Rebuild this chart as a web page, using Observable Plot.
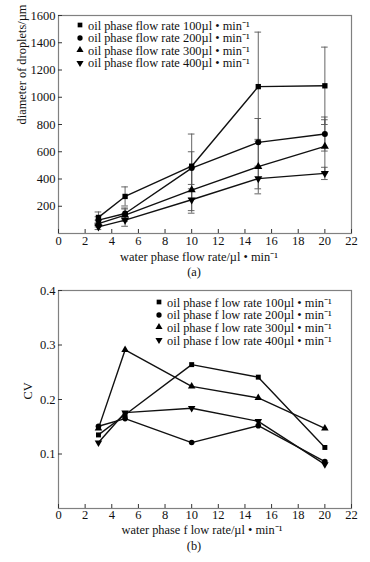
<!DOCTYPE html>
<html>
<head>
<meta charset="utf-8">
<script src="https://cdn.jsdelivr.net/npm/d3@7"></script>
<script src="https://cdn.jsdelivr.net/npm/@observablehq/plot@0.6"></script>
<style>
  html, body { margin: 0; padding: 0; background: #fff; }
  #wrap { position: relative; width: 370px; height: 562px; background: #fff; overflow: hidden; }
  .pane { position: absolute; left: 0; }
  .legend { position: absolute; font-family: "Liberation Serif", serif; font-size: 12.4px; color: #111; }
  .row { position: absolute; white-space: nowrap; display: flex; align-items: center; height: 12px; }
  .row svg { display: block; margin-right: 3px; }
</style>
</head>
<body>
<div id="wrap">
  <div id="a" class="pane" style="top:0"></div>
  <div id="b" class="pane" style="top:280px"></div>
  <div id="legA" class="legend" style="left:75px;top:19px"></div>
  <div id="legB" class="legend" style="left:154px;top:296px"></div>
</div>
<script>
// ---------- data ----------
const waterFlow = [3, 5, 10, 15, 20];
const seriesNamesA = [
  "oil phase flow rate 100µl • min⁻¹",
  "oil phase flow rate 200µl • min⁻¹",
  "oil phase flow rate 300µl • min⁻¹",
  "oil phase flow rate 400µl • min⁻¹"
];
const seriesNamesB = [
  "oil phase f low rate 100µl • min⁻¹",
  "oil phase f low rate 200µl • min⁻¹",
  "oil phase f low rate 300µl • min⁻¹",
  "oil phase f low rate 400µl • min⁻¹"
];
// diameter of droplets (µm)
const diam100 = [118, 272, 494, 1078, 1084];
const diam200 = [98, 147, 480, 669, 730];
const diam300 = [73, 135, 319, 491, 640];
const diam400 = [49, 98, 248, 403, 441];
// error (± µm)
const err100 = [40, 70, 236, 400, 284];
const err200 = [25, 40, 120, 175, 125];
const err300 = [25, 45, 170, 200, 195];
const err400 = [20, 45, 80, 75, 45];
// CV
const cv100 = [0.135, 0.172, 0.264, 0.241, 0.112];
const cv200 = [0.151, 0.165, 0.121, 0.152, 0.086];
const cv300 = [0.147, 0.291, 0.224, 0.203, 0.147];
const cv400 = [0.121, 0.176, 0.184, 0.160, 0.081];

const xTicks = [0, 2, 4, 6, 8, 10, 12, 14, 16, 18, 20, 22];
const yTicksA = [200, 400, 600, 800, 1000, 1200, 1400, 1600];
const yTicksB = [0.1, 0.2, 0.3, 0.4];
const xLabelA = "water phase flow rate/µl • min⁻¹";
const xLabelB = "water phase f low rate/µl • min⁻¹";
const yLabelA = "diameter of droplets/µm";
const yLabelB = "CV";
const captionA = "(a)";
const captionB = "(b)";

// ---------- symbols ----------
const sqrt3 = Math.sqrt(3);
const triangleDown = {
  draw(context, size) {
    const y = -Math.sqrt(size / (sqrt3 * 3));
    context.moveTo(0, -y * 2);
    context.lineTo(-sqrt3 * y, y);
    context.lineTo(sqrt3 * y, y);
    context.closePath();
  }
};
const symbols = [d3.symbolSquare, d3.symbolCircle, d3.symbolTriangle, triangleDown];

// ---------- tables ----------
const diamSeries = [diam100, diam200, diam300, diam400];
const errSeries = [err100, err200, err300, err400];
const cvSeries = [cv100, cv200, cv300, cv400];
const tableA = [], tableB = [];
diamSeries.forEach((vals, s) => vals.forEach((v, i) => tableA.push({s, x: waterFlow[i], y: v, lo: v - errSeries[s][i], hi: v + errSeries[s][i]})));
cvSeries.forEach((vals, s) => vals.forEach((v, i) => tableB.push({s, x: waterFlow[i], y: v})));

const FONT = "Liberation Serif";
const capHalf = 0.25;

function axes(yTicks, yFmt, xPad) {
  return [
    Plot.frame({stroke: "#808080", strokeWidth: 1.2}),
    Plot.axisX({ticks: xTicks, tickSize: -4, tickPadding: xPad, fontSize: 12.5, stroke: "#333", fill: "#111", tickFormat: d => String(d), label: null}),
    Plot.axisY({ticks: yTicks, tickSize: -4, tickPadding: 7, fontSize: 12.5, stroke: "#333", fill: "#111", tickFormat: yFmt, label: null})
  ];
}

function seriesMarks(data, r) {
  const marks = [];
  for (let s = 0; s < 4; s++) {
    const d = data.filter(e => e.s === s);
    marks.push(Plot.line(d, {x: "x", y: "y", stroke: "#111", strokeWidth: 1.4}));
  }
  for (let s = 0; s < 4; s++) {
    const d = data.filter(e => e.s === s);
    marks.push(Plot.dot(d, {x: "x", y: "y", symbol: () => symbols[s], r, fill: "#000", stroke: "none"}));
  }
  return marks;
}

// ---------- chart (a) ----------
const errA = tableA;
const plotA = Plot.plot({
  width: 370, height: 280,
  marginLeft: 58, marginRight: 19, marginTop: 15, marginBottom: 47,
  style: {fontFamily: FONT, fontSize: "12px", background: "#fff", color: "#111"},
  x: {domain: [0, 22], axis: null},
  y: {domain: [0, 1600], axis: null},
  symbol: {type: "identity"},
  marks: [
    ...axes(yTicksA, d => String(d), 7),
    Plot.ruleX(errA, {x: "x", y1: "lo", y2: "hi", stroke: "#555", strokeWidth: 0.9}),
    Plot.ruleY(errA, {y: "hi", x1: d => d.x - capHalf, x2: d => d.x + capHalf, stroke: "#555", strokeWidth: 0.9}),
    Plot.ruleY(errA, {y: "lo", x1: d => d.x - capHalf, x2: d => d.x + capHalf, stroke: "#555", strokeWidth: 0.9}),
    ...seriesMarks(tableA, 3),
    Plot.text([xLabelA], {text: d => d, frameAnchor: "bottom", dy: 27, dx: -6, fontSize: 12.4, fill: "#111"}),
    Plot.text([captionA], {text: d => d, frameAnchor: "bottom", dy: 42, dx: -11, fontSize: 12.4, fill: "#111"}),
    Plot.text([yLabelA], {text: d => d, frameAnchor: "left", dx: -36, rotate: -90, fontSize: 12.4, fill: "#111"})
  ]
});
document.getElementById("a").append(plotA);

// ---------- chart (b) ----------
const plotB = Plot.plot({
  width: 370, height: 282,
  marginLeft: 58, marginRight: 19, marginTop: 10, marginBottom: 54,
  style: {fontFamily: FONT, fontSize: "12px", background: "#fff", color: "#111"},
  x: {domain: [0, 22], axis: null},
  y: {domain: [0, 0.4], axis: null},
  symbol: {type: "identity"},
  marks: [
    ...axes(yTicksB, d3.format(".1f"), 6),
    ...seriesMarks(tableB, 2.8),
    Plot.text([xLabelB], {text: d => d, frameAnchor: "bottom", dy: 25, dx: -3, fontSize: 12.4, fill: "#111"}),
    Plot.text([captionB], {text: d => d, frameAnchor: "bottom", dy: 41, dx: -11, fontSize: 12.4, fill: "#111"}),
    Plot.text([yLabelB], {text: d => d, frameAnchor: "left", dx: -30, rotate: -90, fontSize: 12.4, fill: "#111"})
  ]
});
document.getElementById("b").append(plotB);

// ---------- legends ----------
function legend(id, names, gap) {
  const el = d3.select("#" + id);
  names.forEach((name, i) => {
    const row = el.append("div").attr("class", "row").style("top", (i * gap) + "px").style("left", "0px");
    const svg = row.append("svg").attr("width", 10).attr("height", 10);
    svg.append("path").attr("transform", "translate(5,5)").attr("d", d3.symbol(symbols[i], 22)()).attr("fill", "#000");
    row.append("span").text(name);
  });
}
legend("legA", seriesNamesA, 12.6);
legend("legB", seriesNamesB, 12.7);
</script>
</body>
</html>
